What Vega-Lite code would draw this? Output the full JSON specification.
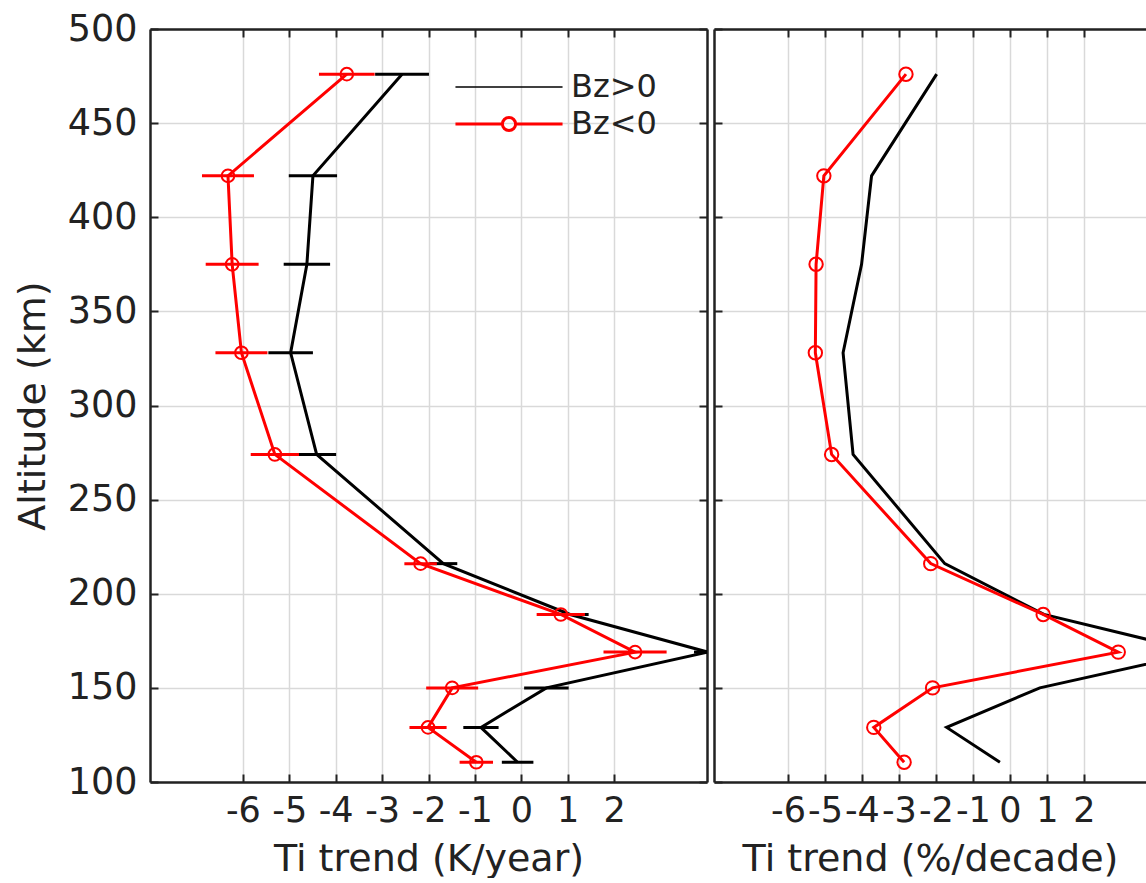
{
  "$schema": "https://vega.github.io/schema/vega-lite/v6.json",
  "background": "white",
  "padding": {"left": 14, "top": 11, "right": 0, "bottom": 0},
  "spacing": 5,
  "datasets": {
    "trend": [
      {"altitude": 476, "series": "Bz>0", "k_trend": -2.57, "k_err": 0.58, "pct_trend": -1.98},
      {"altitude": 422, "series": "Bz>0", "k_trend": -4.49, "k_err": 0.52, "pct_trend": -3.74},
      {"altitude": 375, "series": "Bz>0", "k_trend": -4.62, "k_err": 0.50, "pct_trend": -4.01},
      {"altitude": 328, "series": "Bz>0", "k_trend": -4.97, "k_err": 0.48, "pct_trend": -4.51},
      {"altitude": 274, "series": "Bz>0", "k_trend": -4.41, "k_err": 0.42, "pct_trend": -4.24},
      {"altitude": 216, "series": "Bz>0", "k_trend": -1.68, "k_err": 0.30, "pct_trend": -1.76},
      {"altitude": 189, "series": "Bz>0", "k_trend": 1.05, "k_err": 0.40, "pct_trend": 0.92},
      {"altitude": 169, "series": "Bz>0", "k_trend": 4.02, "k_err": 0.30, "pct_trend": 5.14},
      {"altitude": 150, "series": "Bz>0", "k_trend": 0.54, "k_err": 0.48, "pct_trend": 0.81},
      {"altitude": 129, "series": "Bz>0", "k_trend": -0.87, "k_err": 0.38, "pct_trend": -1.71},
      {"altitude": 110.5, "series": "Bz>0", "k_trend": -0.08, "k_err": 0.34, "pct_trend": -0.27},
      {"altitude": 476, "series": "Bz<0", "k_trend": -3.76, "k_err": 0.60, "pct_trend": -2.81},
      {"altitude": 422, "series": "Bz<0", "k_trend": -6.32, "k_err": 0.56, "pct_trend": -5.03},
      {"altitude": 375, "series": "Bz<0", "k_trend": -6.23, "k_err": 0.57, "pct_trend": -5.24},
      {"altitude": 328, "series": "Bz<0", "k_trend": -6.03, "k_err": 0.56, "pct_trend": -5.26},
      {"altitude": 274, "series": "Bz<0", "k_trend": -5.31, "k_err": 0.52, "pct_trend": -4.82},
      {"altitude": 216, "series": "Bz<0", "k_trend": -2.17, "k_err": 0.35, "pct_trend": -2.14},
      {"altitude": 189, "series": "Bz<0", "k_trend": 0.85, "k_err": 0.52, "pct_trend": 0.90},
      {"altitude": 169, "series": "Bz<0", "k_trend": 2.45, "k_err": 0.68, "pct_trend": 2.93},
      {"altitude": 150, "series": "Bz<0", "k_trend": -1.49, "k_err": 0.56, "pct_trend": -2.09},
      {"altitude": 129, "series": "Bz<0", "k_trend": -2.01, "k_err": 0.40, "pct_trend": -3.68},
      {"altitude": 110.5, "series": "Bz<0", "k_trend": -0.97, "k_err": 0.36, "pct_trend": -2.86}
    ]
  },
  "data": {"name": "trend"},
  "hconcat": [
    {
      "width": 557,
      "height": 753,
      "layer": [
        {
          "mark": {"type": "line", "strokeWidth": 3, "clip": true},
          "encoding": {
            "x": {"field": "k_trend", "type": "quantitative",
                  "scale": {"domain": [-8, 4], "nice": false, "zero": false},
                  "axis": {"orient": "bottom", "values": [-6, -5, -4, -3, -2, -1, 0, 1, 2], "labelExpr": "toString(datum.value)", "title": "Ti trend (K/year)", "grid": true, "labelPadding": 19, "titlePadding": 12}},
            "y": {"field": "altitude", "type": "quantitative",
                  "scale": {"domain": [100, 500], "nice": false, "zero": false},
                  "axis": {"orient": "left", "values": [100, 150, 200, 250, 300, 350, 400, 450, 500], "title": "Altitude (km)", "grid": true, "labelPadding": 21, "labelFontSize": 36.5, "titlePadding": 15}},
            "color": {"field": "series", "type": "nominal",
                      "scale": {"domain": ["Bz>0", "Bz<0"], "range": ["#000000", "#ff0000"]},
                      "legend": {
                        "title": null, "orient": "none", "legendX": 343, "legendY": 42,
                        "symbolSize": 1274, "symbolType": "M-3,0H3", "symbolStrokeWidth": 2,
                        "labelFont": "DejaVu Sans", "labelFontSize": 32, "labelColor": "#222222",
                        "labelOffset": 46, "rowPadding": 5, "padding": 0,
                        "encode": {
                          "symbols": {
                            "update": {
                              "shape": {"signal": "datum.value === 'Bz<0' ? 'M-3,0H-0.37M0.37,0H3M0.37,0A0.37,0.37 0 1,1 -0.37,0A0.37,0.37 0 1,1 0.37,0' : 'M-3,0H3'"},
                              "strokeWidth": {"signal": "datum.value === 'Bz<0' ? 3 : 1.5"},
                              "fill": {"value": "transparent"}
                            }
                          }
                        }
                      }},
            "order": {"field": "altitude", "type": "quantitative"}
          }
        },
        {
          "mark": {"type": "errorbar", "thickness": 3, "clip": true},
          "encoding": {
            "x": {"field": "k_trend", "type": "quantitative",
                  "axis": {"orient": "top", "values": [-6, -5, -4, -3, -2, -1, 0, 1, 2], "labels": false, "title": null, "grid": false}},
            "xError": {"field": "k_err"},
            "y": {"field": "altitude", "type": "quantitative",
                  "axis": {"orient": "right", "values": [100, 150, 200, 250, 300, 350, 400, 450, 500], "labels": false, "title": null, "grid": false}},
            "color": {"field": "series", "type": "nominal", "legend": null}
          }
        },
        {
          "transform": [{"filter": "datum.series === 'Bz<0'"}],
          "mark": {"type": "point", "filled": false, "size": 160, "strokeWidth": 2, "opacity": 1, "clip": true},
          "encoding": {
            "x": {"field": "k_trend", "type": "quantitative", "axis": null},
            "y": {"field": "altitude", "type": "quantitative", "axis": null},
            "color": {"field": "series", "type": "nominal", "legend": null}
          }
        }
      ],
      "resolve": {"axis": {"x": "independent", "y": "independent"}}
    },
    {
      "width": 432,
      "height": 753,
      "layer": [
        {
          "mark": {"type": "line", "strokeWidth": 3, "clip": true},
          "encoding": {
            "x": {"field": "pct_trend", "type": "quantitative",
                  "scale": {"domain": [-8, 3.68], "nice": false, "zero": false},
                  "axis": {"orient": "bottom", "values": [-6, -5, -4, -3, -2, -1, 0, 1, 2], "labelExpr": "toString(datum.value)", "title": "Ti trend (%/decade)", "grid": true, "labelPadding": 19, "titlePadding": 12}},
            "y": {"field": "altitude", "type": "quantitative",
                  "scale": {"domain": [100, 500], "nice": false, "zero": false},
                  "axis": {"orient": "left", "values": [100, 150, 200, 250, 300, 350, 400, 450, 500], "labels": false, "title": null, "grid": true}},
            "color": {"field": "series", "type": "nominal",
                      "scale": {"domain": ["Bz>0", "Bz<0"], "range": ["#000000", "#ff0000"]}, "legend": null},
            "order": {"field": "altitude", "type": "quantitative"}
          }
        },
        {
          "transform": [{"filter": "datum.series === 'Bz<0'"}],
          "mark": {"type": "point", "filled": false, "size": 180, "strokeWidth": 2, "opacity": 1, "clip": true},
          "encoding": {
            "x": {"field": "pct_trend", "type": "quantitative",
                  "axis": {"orient": "top", "values": [-6, -5, -4, -3, -2, -1, 0, 1, 2], "labels": false, "title": null, "grid": false}},
            "y": {"field": "altitude", "type": "quantitative", "axis": null},
            "color": {"field": "series", "type": "nominal", "legend": null}
          }
        }
      ],
      "resolve": {"axis": {"x": "independent", "y": "independent"}}
    }
  ],
  "config": {
    "view": {"stroke": null},
    "axis": {
      "domainColor": "#222222",
      "domainWidth": 2.5,
      "tickColor": "#222222",
      "tickWidth": 2,
      "tickSize": -8,
      "labelFont": "DejaVu Sans",
      "labelFontSize": 35,
      "labelColor": "#222222",
      "labelFlush": false,
      "labelOverlap": false,
      "titleFont": "DejaVu Sans",
      "titleFontSize": 38,
      "titleFontWeight": "normal",
      "titleColor": "#222222",
      "gridColor": "#d9d9d9",
      "gridWidth": 1.5,
      "gridOpacity": 1
    }
  }
}
